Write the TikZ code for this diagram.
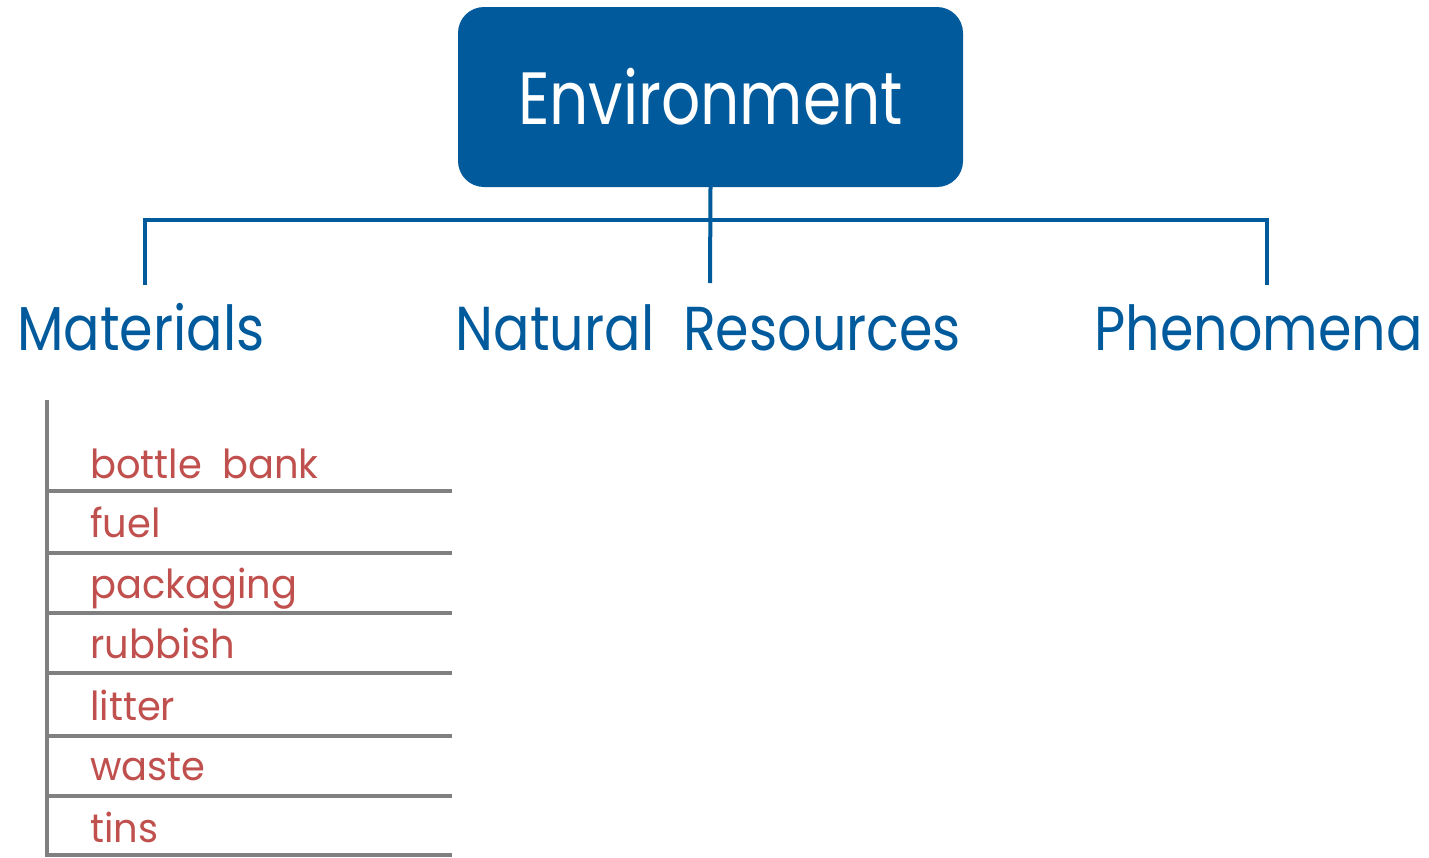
\documentclass[tikz,border=0pt]{standalone}
\usepackage{fontspec}
\setmainfont{Poppins}
\newfontfamily\envfont[FakeStretch=0.83]{Poppins}
\newfontfamily\branchfont[FakeStretch=0.87]{Poppins}
\newfontfamily\itemfont[FakeStretch=0.96]{Poppins}
\usepackage{tikz}
\usetikzlibrary{positioning,calc}

\definecolor{envblue}{HTML}{005A9C}
\definecolor{itemred}{HTML}{C0504D}
\definecolor{rulegray}{HTML}{808080}

\begin{document}
\begin{tikzpicture}[
  x=1pt, y=-1pt,
  topbox/.style={fill=envblue, rounded corners=26pt, minimum width=505pt, minimum height=180pt, text=white, font=\envfont\fontsize{74}{78}\selectfont},
  branch/.style={text=envblue, inner sep=0pt, font=\branchfont\fontsize{62}{66}\selectfont},
  item/.style={text=itemred, inner sep=0pt, anchor=base west, font=\itemfont\fontsize{40}{44}\selectfont},
  link/.style={draw=envblue, line width=4pt},
  rule/.style={draw=rulegray, line width=4.5pt}
]
\useasboundingbox (0,0) rectangle (1429,857);

\node[topbox] (env) at (710.5,97) {Environment};

\node[branch, anchor=base west] (mat) at (17,350) {Materials};
\node[branch, anchor=base] (nat) at (708.5,350) {Natural\ \ Resources};
\node[branch, anchor=base east] (phen) at (1423,350) {Phenomena};

\coordinate (bar) at (710,220);
\coordinate (mtop) at (145,285);
\coordinate (ntop) at (710,283);
\coordinate (ptop) at (1267,285);

\draw[link] (env.south) -- (ntop);
\draw[link] (mtop) |- (bar) -| (ptop);

% list of materials
\coordinate (ltop) at (47,400);
\coordinate (lbot) at (47,857);
\draw[rule] (ltop) -- (lbot);
\foreach \y in {491,553,613,673,736,796,855}
  \draw[rule] (47,\y) -- (452,\y);

\foreach \txt/\yb [count=\i] in {bottle\ \ bank/478, fuel/537, packaging/598, rubbish/658, litter/720, waste/780, tins/842}
  \node[item] (it\i) at (90,\yb) {\txt};
\end{tikzpicture}
\end{document}
